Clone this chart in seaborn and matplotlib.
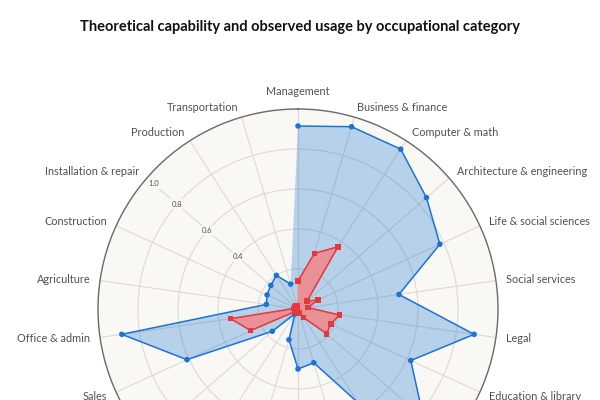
import numpy as np
import matplotlib
matplotlib.use("Agg")
import matplotlib.pyplot as plt
import seaborn as sns

categories = ["Management", "Business & finance", "Computer & math",
              "Architecture & engineering", "Life & social sciences",
              "Social services", "Legal", "Education & library",
              "Arts & media", "Healthcare practitioners", "Healthcare support",
              "Protective service", "Food service", "Grounds maintenance",
              "Personal care", "Sales", "Office & admin", "Agriculture",
              "Construction", "Installation & repair", "Production",
              "Transportation"]
theoretical = [0.915, 0.95, 0.95, 0.85, 0.78, 0.51, 0.89, 0.62,
               0.83, 0.56, 0.28, 0.30, 0.16, 0.03, 0.17, 0.61,
               0.89, 0.16, 0.17, 0.18, 0.20, 0.13]
observed = [0.14, 0.29, 0.37, 0.06, 0.11, 0.05, 0.21, 0.18,
            0.19, 0.05, 0.02, 0.02, 0.015, 0.01, 0.02, 0.26,
            0.34, 0.02, 0.02, 0.02, 0.02, 0.015]
rticks = [0.2, 0.4, 0.6, 0.8, 1.0]
rtick_labels = ["", "0.4", "0.6", "0.8", "1.0"]

sns.set_theme(style="white")
plt.rcParams['font.family'] = ['Lato', 'DejaVu Sans']

blue = "#1a73d6"
red = "#e3383d"
grid_c = "#dedad0"
bg = "#f9f8f5"

n = len(categories)
angles = np.linspace(0, 2 * np.pi, n, endpoint=False)
ang_c = np.append(angles, angles[0])
theo_c = np.append(theoretical, theoretical[0])
obs_c = np.append(observed, observed[0])

fig = plt.figure(figsize=(6, 4), dpi=100)
ax = fig.add_axes([0.1633, -0.2725, 0.6667, 1.0], projection='polar')
ax.set_theta_zero_location('N')
ax.set_theta_direction(-1)
ax.set_facecolor(bg)
ax.set_ylim(0, 1.0)

ax.set_xticks(angles)
ax.set_xticklabels([])
ax.set_yticks(rticks)
ax.set_yticklabels([])
ax.grid(True, color=grid_c, linewidth=0.8)
ax.spines['polar'].set_color('#6b6b6b')
ax.spines['polar'].set_linewidth(1.0)

# theoretical capability
ax.fill(ang_c, theo_c, color="#1f77d4", alpha=0.3, zorder=2, linewidth=0)
sns.lineplot(x=ang_c, y=theo_c, sort=False, ax=ax, color=blue,
             linewidth=1.1, zorder=3)
sns.scatterplot(x=angles, y=theoretical, ax=ax, color=blue, s=16,
                edgecolor='none', zorder=4)

# observed usage
ax.fill(ang_c, obs_c, color="#ef8a8e", alpha=0.9, zorder=5, linewidth=0)
sns.lineplot(x=ang_c, y=obs_c, sort=False, ax=ax, color=red,
             linewidth=1.1, zorder=6)
sns.scatterplot(x=angles, y=observed, ax=ax, color=red, s=16, marker='s',
                edgecolor='none', zorder=7)

# category labels
for a, lab in zip(angles, categories):
    s = np.sin(a)
    if s > 0.1:
        ha = 'left'
    elif s < -0.1:
        ha = 'right'
    else:
        ha = 'center'
    va = 'bottom' if abs(s) < 0.1 and np.cos(a) > 0 else 'center'
    r = 1.06 if va == 'bottom' else 1.05
    ax.text(a, r, lab, ha=ha, va=va, fontsize=7.8, color='#505050')

# radial labels along the Installation & repair spoke
rl_ang = angles[categories.index("Installation & repair")]
for t, lab in zip(rticks, rtick_labels):
    if lab:
        ax.text(rl_ang, min(t, 0.955), lab, ha='center', va='center',
                fontsize=5.5, color='#555555', zorder=1.5,
                bbox=dict(facecolor=bg, edgecolor='none', pad=1.0))

fig.text(0.5, 1 - 27 / 400, "Theoretical capability and observed usage by occupational category",
         ha='center', va='center', fontsize=10.5, fontweight='bold', color='#111111')

fig.savefig("out.png", dpi=100)
